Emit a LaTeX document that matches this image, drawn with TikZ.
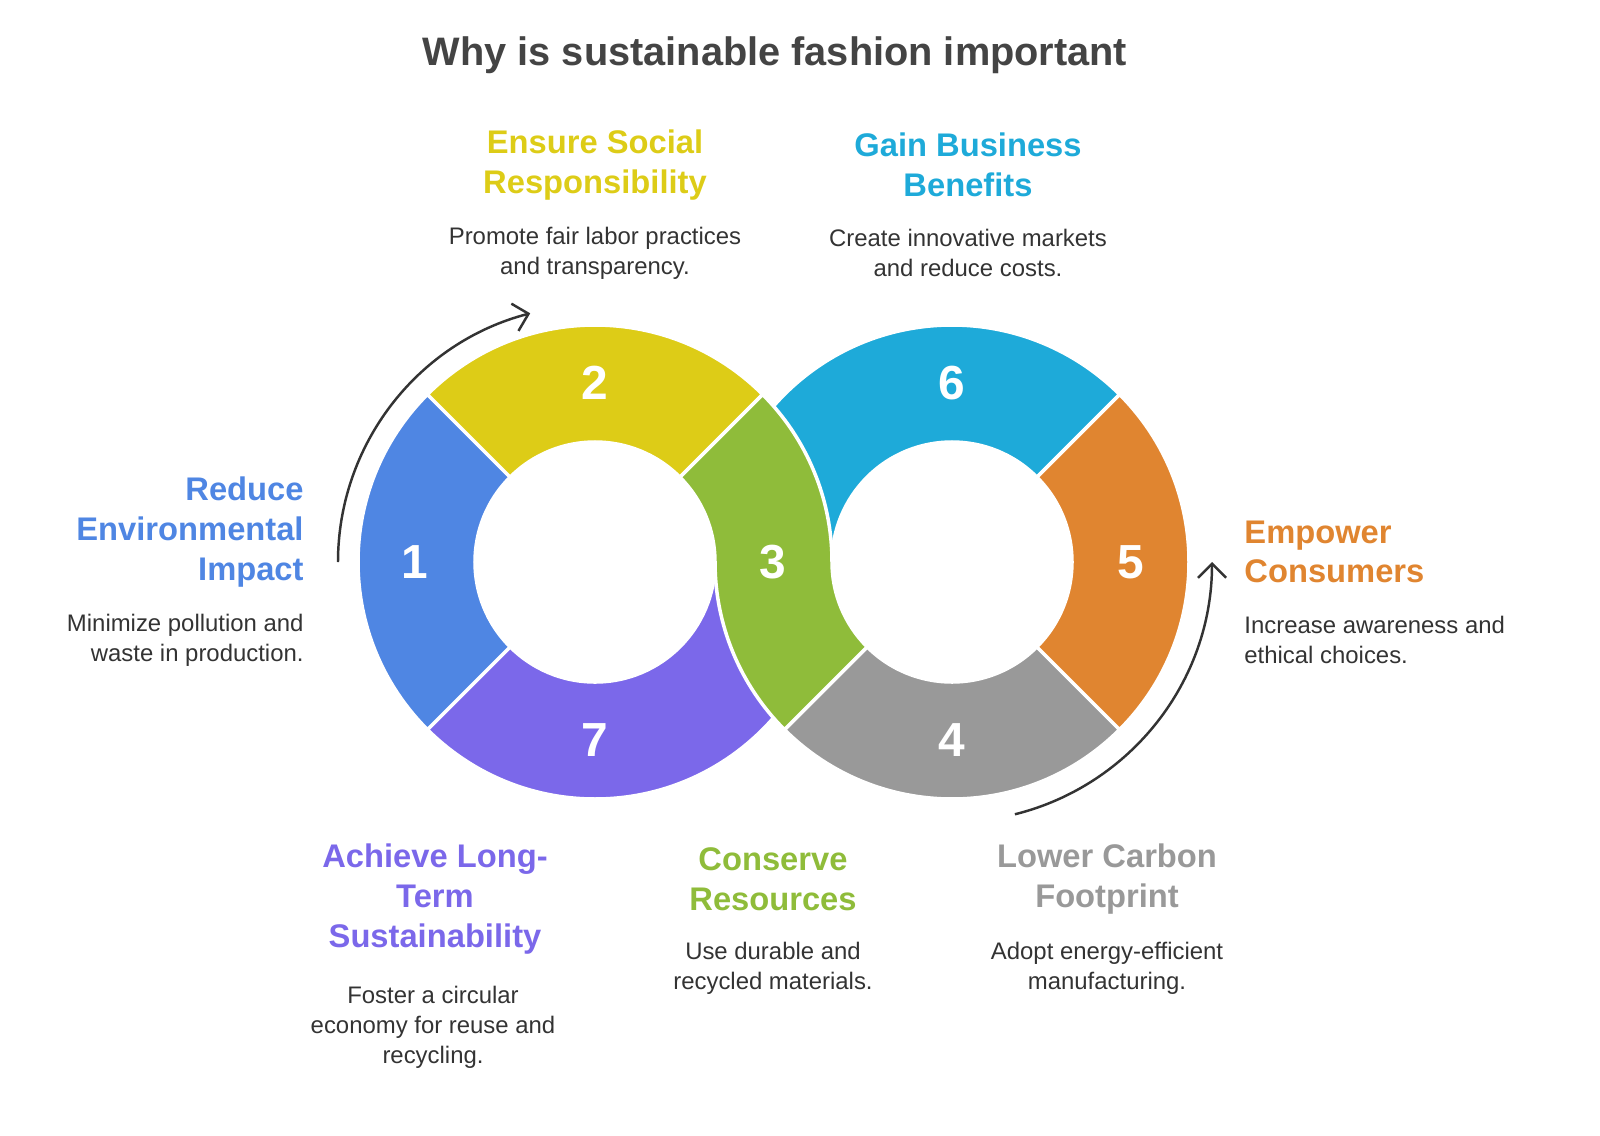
\documentclass[tikz,border=0pt]{standalone}
\usepackage{fontspec}
\setmainfont{Liberation Sans}
\usetikzlibrary{calc,arrows.meta}
\definecolor{cA}{HTML}{4F86E3}
\definecolor{cB}{HTML}{DDCC17}
\definecolor{cC}{HTML}{8FBC3A}
\definecolor{cD}{HTML}{999999}
\definecolor{cE}{HTML}{E08530}
\definecolor{cF}{HTML}{1EAAD9}
\definecolor{cG}{HTML}{7B68EA}
\definecolor{txt}{HTML}{333333}
\definecolor{ttl}{HTML}{444444}
\begin{document}
\begin{tikzpicture}[x=0.01cm,y=0.01cm,
  seg/.style={draw=white,line width=1pt},
  num/.style={text=white,font=\fontsize{13.6}{14}\selectfont\bfseries},
  head/.style={font=\fontsize{9.3}{11.3}\selectfont\bfseries},
  body/.style={text=txt,font=\fontsize{6.8}{8.5}\selectfont},
  arr/.style={draw=txt,line width=0.7pt,-{Straight Barb[length=4pt]}}]
\useasboundingbox (0,0) rectangle (1600,1135);
\coordinate (L) at (595,573);
\coordinate (R) at (952,573);
\def\ro{237}\def\ri{120}
% segments
\fill[cG,seg] ($(L)+(180:\ri)$) arc (180:360:\ri) -- ($(L)+(0:\ro)$) arc (360:180:\ro) -- cycle;
\fill[cD,seg] ($(R)+(225:\ri)$) arc (225:315:\ri) -- ($(R)+(315:\ro)$) arc (315:225:\ro) -- cycle;
\fill[cF,seg] ($(R)+(45:\ri)$) arc (45:180:\ri) -- ($(R)+(180:\ro)$) arc (180:45:\ro) -- cycle;
\fill[cA,seg] ($(L)+(135:\ri)$) arc (135:225:\ri) -- ($(L)+(225:\ro)$) arc (225:135:\ro) -- cycle;
\fill[cB,seg] ($(L)+(45:\ri)$) arc (45:135:\ri) -- ($(L)+(135:\ro)$) arc (135:45:\ro) -- cycle;
\fill[cE,seg] ($(R)+(-45:\ri)$) arc (-45:45:\ri) -- ($(R)+(45:\ro)$) arc (45:-45:\ro) -- cycle;
\fill[cC,seg] ($(L)+(45:\ro)$) arc (45:0:\ro) arc (180:225:\ri) -- ($(R)+(225:\ro)$) arc (225:180:\ro) arc (0:45:\ri) -- cycle;
% numbers
\node[num] (n1) at (415,573) {1};
\node[num] (n2) at (595,752) {2};
\node[num] (n3) at (773,573) {3};
\node[num] (n4) at (952,395) {4};
\node[num] (n5) at (1131,573) {5};
\node[num] (n6) at (952,752) {6};
\node[num] (n7) at (595,395) {7};
% arrows
\draw[arr] ($(L)+(180:257)$) arc (180:104.6:257);
\draw[arr] ($(R)+(-76:260)$) arc (-76:0:260);
% title
\node[text=ttl,font=\fontsize{11.3}{13}\selectfont\bfseries] (title) at (775,1080) {Why is sustainable fashion important};
% texts
\node[head,text=cA,align=right,anchor=east] (h1) at (316,603) {Reduce\\Environmental\\Impact};
\node[body,align=right,anchor=east] (b1) at (316,495) {Minimize pollution and\\waste in production.};
\node[head,text=cB,align=center] (h2) at (595,970) {Ensure Social\\Responsibility};
\node[body,align=center] (b2) at (595,882) {Promote fair labor practices\\and transparency.};
\node[head,text=cF,align=center] (h6) at (968,970) {Gain Business\\Benefits};
\node[body,align=center] (b6) at (968,882) {Create innovative markets\\and reduce costs.};
\node[head,text=cE,align=left,anchor=west] (h5) at (1232,583) {Empower\\Consumers};
\node[body,align=left,anchor=west] (b5) at (1232,495) {Increase awareness and\\ethical choices.};
\node[head,text=cG,align=center] (h7) at (435,236) {Achieve Long-\\Term\\Sustainability};
\node[body,align=center] (b7) at (433,108) {Foster a circular\\economy for reuse and\\recycling.};
\node[head,text=cC,align=center] (h3) at (773,256) {Conserve\\Resources};
\node[body,align=center] (b3) at (773,167) {Use durable and\\recycled materials.};
\node[head,text=cD,align=center] (h4) at (1107,256) {Lower Carbon\\Footprint};
\node[body,align=center] (b4) at (1107,167) {Adopt energy-efficient\\manufacturing.};
\end{tikzpicture}
\end{document}
